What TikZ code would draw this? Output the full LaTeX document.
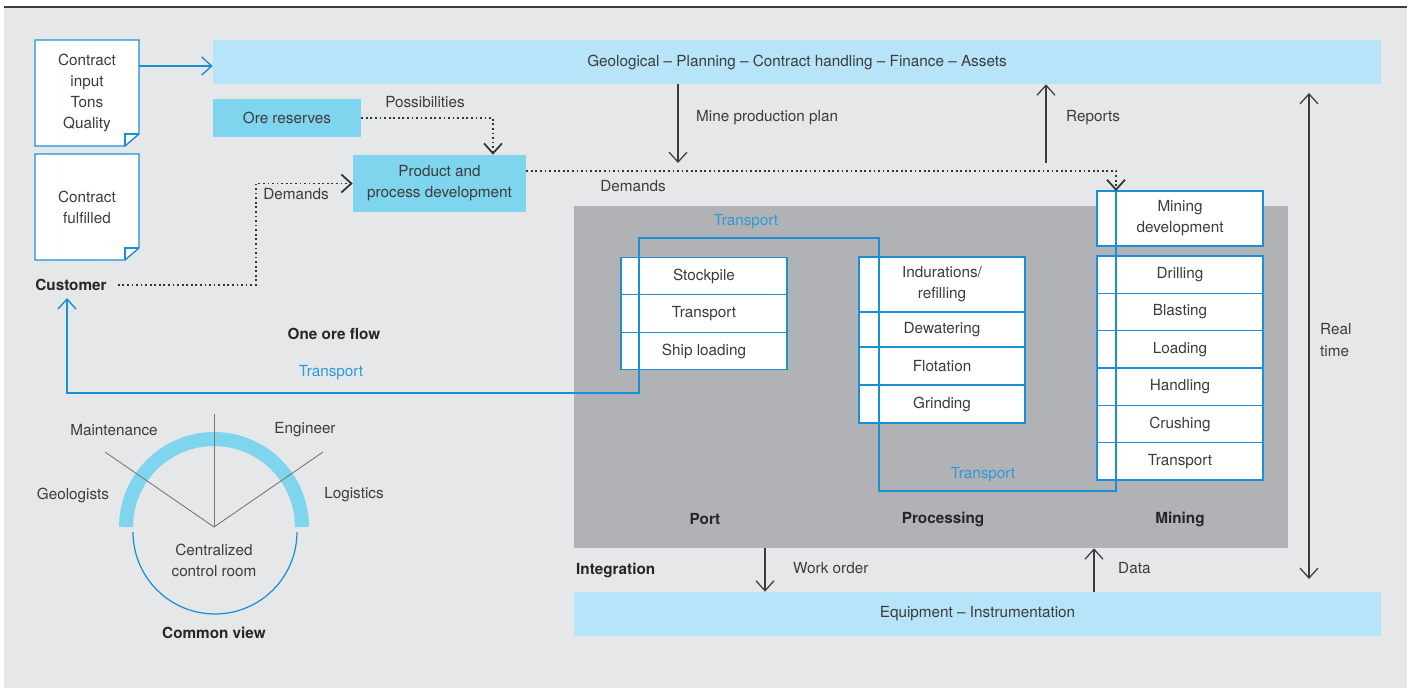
\documentclass[tikz,border=0pt]{standalone}
\usepackage{fontspec}
\setmainfont{TeX Gyre Heros}
\usetikzlibrary{arrows.meta, positioning, calc}
\definecolor{pagegray}{RGB}{230,231,233}
\definecolor{rulegray}{RGB}{60,60,60}
\definecolor{barblue}{RGB}{183,228,248}
\definecolor{boxcyan}{RGB}{127,212,238}
\definecolor{opsgray}{RGB}{177,178,181}
\definecolor{lineblue}{RGB}{27,143,214}
\definecolor{textblue}{RGB}{46,154,214}
\definecolor{textgray}{RGB}{60,60,60}
\definecolor{spokegray}{RGB}{120,120,120}
\tikzset{
    % Bars and boxes
    infobar/.style={rectangle, fill=#1, inner sep=0pt, minimum height=0.88cm, align=center},
    opsarea/.style={rectangle, fill=opsgray, minimum width=14.28cm, minimum height=6.84cm},
    cell/.style={rectangle, draw=lineblue, fill=white, line width=0.8pt, outer sep=0pt,
                inner sep=0pt, minimum width=3.32cm, minimum height=#1, align=center},
    cell/.default=0.75cm,
    % Contract sheets
    docline/.style={draw=lineblue, fill=white, line width=0.8pt},
    doctext/.style={minimum width=2.08cm, minimum height=2.12cm, inner sep=0pt, align=center},
    % Labels
    lbl/.style={anchor=west, align=left},
    hdr/.style={font=\fontsize{8.7}{12}\selectfont\bfseries, text=black!85},
    tlbl/.style={text=textblue},
    % Connectors
    darrow/.style={-{Straight Barb[length=2mm, width=3.6mm]}, line width=0.7pt, draw=textgray},
    rtarrow/.style={{Straight Barb[length=2mm, width=3.6mm]}-{Straight Barb[length=2mm, width=3.6mm]},
                line width=0.7pt, draw=textgray},
    dotarrow/.style={-{Straight Barb[length=2mm, width=3.6mm]}, line width=1pt,
                dash pattern=on 1pt off 1.6pt, draw=black!80},
    flowline/.style={-{Straight Barb[length=2mm, width=3.6mm]}, line width=0.8pt, draw=lineblue},
    spoke/.style={line width=0.5pt, draw=spokegray},
}
% sheet with folded corner: name, centre, text
\newcommand{\docsheet}[3]{%
  \draw[docline] ($(#2)+(-52,-53)$) -- ($(#2)+(52,-53)$) -- ($(#2)+(52,41)$)
      -- ($(#2)+(38,53)$) -- ($(#2)+(-52,53)$) -- cycle;
  \draw[docline, fill=none] ($(#2)+(38,53)$) |- ($(#2)+(52,41)$);
  \node[doctext] (#1) at (#2) {#3};}

\begin{document}
\begin{tikzpicture}[x=0.02cm, y=-0.02cm,
    every node/.style={font=\fontsize{8.7}{12}\selectfont, text=textgray}]
\useasboundingbox (0,0) rectangle (1413,689);
\fill[pagegray] (4,7) rectangle (1407,688);
\draw[rulegray, line width=1.2pt] (4,7) -- (1407,7);

% main blocks
\node[opsarea] (ops) at (931,377) {};
\node[infobar=barblue, minimum width=23.36cm] (plan) at (797,62)
    {Geological -- Planning -- Contract handling -- Finance -- Assets};
\node[infobar=barblue, minimum width=16.14cm] (equip) at (977.5,614) {Equipment -- Instrumentation};
\node[infobar=boxcyan, minimum width=2.96cm, minimum height=0.76cm] (ore) at (287,118) {Ore reserves};
\node[infobar=boxcyan, minimum width=3.46cm, minimum height=1.14cm] (prod) at (439.5,183.5)
    {Product and\\process development};

\docsheet{cin}{87,93}{Contract\\input\\Tons\\Quality}
\docsheet{cout}{87,207}{Contract\\fulfilled}
\node[hdr] (cust) at (71,285) {Customer};

% port
\node[cell] (stock) at (704,276) {Stockpile};
\node[cell, below=0pt of stock] (ptrans) {Transport};
\node[cell, below=0pt of ptrans] (ship) {Ship loading};
% processing
\node[cell=1.1cm] (indur) at (942,284.5) {Indurations/\\refilling};
\node[cell=0.7cm, below=0pt of indur] (dewat) {Dewatering};
\node[cell=0.76cm, below=0pt of dewat] (flot) {Flotation};
\node[cell=0.76cm, below=0pt of flot] (grind) {Grinding};
% mining
\node[cell=1.1cm] (mdev) at (1180,218.5) {Mining\\development};
\node[cell=0.7467cm] (drill) at (1180,274.7) {Drilling};
\node[cell=0.7467cm, below=0pt of drill] (blast) {Blasting};
\node[cell=0.7467cm, below=0pt of blast] (load) {Loading};
\node[cell=0.7467cm, below=0pt of load] (handl) {Handling};
\node[cell=0.7467cm, below=0pt of handl] (crush) {Crushing};
\node[cell=0.7467cm, below=0pt of crush] (mtrans) {Transport};

% ore flow
\coordinate (flowend) at (67,298);
\draw[flowline] ($(mdev.north)+(-64,0)$) |- (879,491) |- (639,238) |- (67,393) -- (flowend);
\draw[flowline] (cin.east |- 0,66) -- (plan.west |- 0,66);

% demands and possibilities
\draw[dotarrow] (ore.east) -| ($(prod.north)+(53.5,0)$);
\draw[dotarrow] ([xshift=0.1cm]cust.east) -| ($(prod.west)+(-97,0)$) -- (prod.west);
\draw[dotarrow] ([yshift=0.25cm]prod.east) -| ($(mdev.north)+(-64,0)$);

% plan, reports, real time
\coordinate (mpp) at (678,163);
\coordinate (rep) at (1046,163);
\coordinate (rtop) at (1309,93);
\coordinate (rbot) at (1309,579);
\coordinate (wo) at (765,570);
\coordinate (da) at (1094,570);
\draw[darrow] (plan.south -| mpp) -- (mpp);
\draw[darrow] (rep) -- (plan.south -| rep);
\draw[rtarrow] (rbot) -- (rtop);
\draw[darrow] (ops.south -| wo) -- (equip.north -| wo);
\draw[darrow] (equip.north -| da) -- (ops.south -| da);

% labels
\node (poss) at (425,102) {Possibilities};
\node (dem1) at (296,194) {Demands};
\node (dem2) at (633,186) {Demands};
\node[lbl] (mpplbl) at (690,118) {Mine production plan};
\node[lbl] (replbl) at (1060,118) {Reports};
\node[lbl] (rtlbl) at (1314,340) {Real\\time};
\node[lbl] (wolbl) at (787,568) {Work order};
\node[lbl] (dalbl) at (1112,568) {Data};
\node[hdr, anchor=west] (integ) at (570,570) {Integration};
\node[hdr] (flowlbl) at (334,334) {One ore flow};
\node[tlbl] (tr1) at (746,222) {Transport};
\node[tlbl] (tr2) at (983,475) {Transport};
\node[tlbl] (tr3) at (331,373) {Transport};
\node[hdr] (port) at (705,519) {Port};
\node[hdr] (proc) at (943,519) {Processing};
\node[hdr] (mine) at (1180,519) {Mining};

% control room
\coordinate (hub) at (214,527);
\draw[boxcyan, line width=0.28cm] ($(hub)+(88,0)$) arc[start angle=0, end angle=180, radius=1.76cm];
\draw[lineblue, line width=0.7pt] (133,532) arc[start angle=180, end angle=360, radius=1.64cm];
\draw[spoke] (105,452) -- (hub) -- (323,452);
\draw[spoke] (hub) -- (214,414);
\node (maint) at (114,430) {Maintenance};
\node (eng) at (305,430) {Engineer};
\node (geo) at (73,495) {Geologists};
\node (logi) at (354,495) {Logistics};
\node[align=center] (croom) at (214,560) {Centralized\\control room};
\node[hdr] (cview) at (214,633) {Common view};
\end{tikzpicture}
\end{document}
